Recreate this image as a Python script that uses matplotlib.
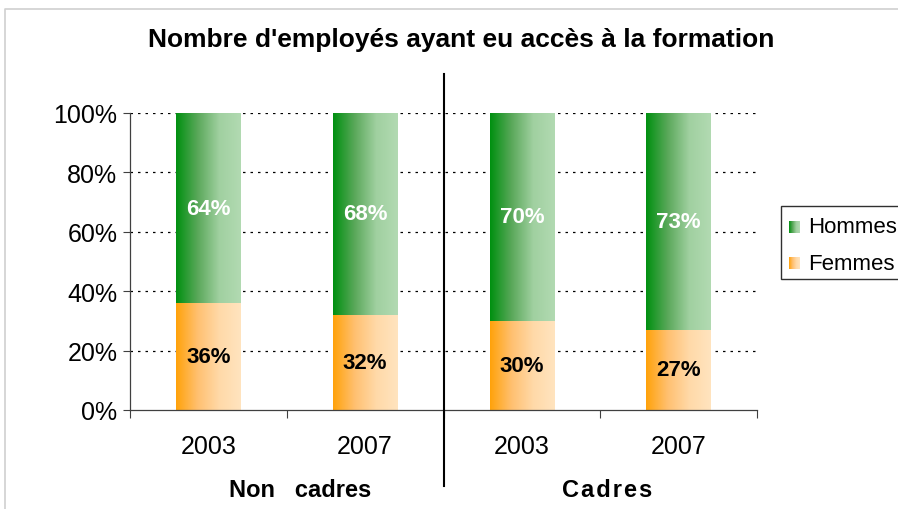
import numpy as np
import matplotlib.pyplot as plt
from matplotlib.colors import LinearSegmentedColormap
from matplotlib.patches import Rectangle
from matplotlib.lines import Line2D

plt.rcParams['font.family'] = ['Liberation Sans', 'DejaVu Sans']

years = ['2003', '2007', '2003', '2007']
groups = ['Non   cadres', 'C\u200aa\u200ad\u200ar\u200ae\u200as']
femmes = [36, 32, 30, 27]
hommes = [64, 68, 70, 73]
series = ['Hommes', 'Femmes']

green = LinearSegmentedColormap.from_list('g', ['#009010', '#5aa85a', '#a0d0a0', '#b2dab2'])
orange = LinearSegmentedColormap.from_list('o', ['#ffa20a', '#ffc070', '#ffd9a8', '#ffe4bf'])
grad = np.linspace(0, 1, 256).reshape(1, -1)

W, H = 898, 510
fig = plt.figure(figsize=(W / 100, H / 100), dpi=100)
ax = fig.add_axes([130 / W, 1 - 411 / H, 627 / W, 297 / H])

x = np.arange(len(years))
w = 0.41
bf = ax.bar(x, femmes, w, color='none', zorder=2)
bh = ax.bar(x, hommes, w, bottom=femmes, color='none', zorder=2)


def fill(bars, cmap):
    for b in bars:
        x0, y0 = b.get_x(), b.get_y()
        im = ax.imshow(grad, cmap=cmap, aspect='auto', zorder=2,
                       extent=[x0, x0 + b.get_width(), y0, y0 + b.get_height()])
        im.set_clip_path(b)


fill(bf, orange)
fill(bh, green)

for i in range(len(years)):
    ax.text(x[i], femmes[i] / 2, f"{femmes[i]}%", ha='center', va='center',
            fontsize=16, fontweight='bold', color='black', zorder=3)
    ax.text(x[i], femmes[i] + hommes[i] / 2, f"{hommes[i]}%", ha='center', va='center',
            fontsize=16, fontweight='bold', color='white', zorder=3)

ax.set_xlim(-0.5, 3.5)
ax.set_ylim(0, 100)
for yv in range(20, 101, 20):
    ax.axhline(yv, color='black', lw=0.9, ls=(0, (2, 4)), zorder=1)

ax.set_yticks(range(0, 101, 20))
ax.set_yticklabels([f"{v}%" for v in range(0, 101, 20)], fontsize=18)
ax.tick_params(axis='y', length=5, width=0.8, color='#404040', pad=4)
ax.set_xticks(np.arange(-0.5, 3.6, 1))
ax.set_xticklabels([])
ax.tick_params(axis='x', which='major', length=6, width=0.8, color='#404040')
ax.set_xticks(x, minor=True)
ax.set_xticklabels(years, minor=True, fontsize=18)
ax.tick_params(axis='x', which='minor', length=0, pad=17)
for s in ['top', 'right']:
    ax.spines[s].set_visible(False)
for s in ['left', 'bottom']:
    ax.spines[s].set_color('#404040')
    ax.spines[s].set_linewidth(0.9)

# separator between groups
fig.add_artist(Line2D([444 / W, 444 / W], [1 - 75 / H, 1 - 487 / H],
                      color='black', lw=1.5, transform=fig.transFigure))
fig.text(300 / W, 1 - 491 / H, groups[0], ha='center', va='center',
         fontsize=17, fontweight='bold')
fig.text(607 / W, 1 - 491 / H, groups[1], ha='center', va='center',
         fontsize=17, fontweight='bold')

fig.text(461 / W, 1 - 40 / H, "Nombre d'employés ayant eu accès à la formation",
         ha='center', va='center', fontsize=19, fontweight='bold')

# outer border of the chart area
fig.add_artist(Line2D([5 / W, 5 / W, 1], [0, 1 - 10 / H, 1 - 10 / H],
                      color='#d0d0d0', lw=1.2, transform=fig.transFigure))

# legend, drawn by hand so the keys keep the gradient
box = Rectangle((781 / W, 1 - 280 / H), 140 / W, 73 / H, transform=fig.transFigure,
                facecolor='white', edgecolor='#303030', lw=1, clip_on=False, zorder=3)
fig.add_artist(box)
for name, cmap, yc in [(series[0], green, 228), (series[1], orange, 264)]:
    kax = fig.add_axes([789 / W, 1 - (yc + 6) / H, 11 / W, 12 / H])
    kax.set_zorder(5)
    kax.imshow(grad, cmap=cmap, aspect='auto')
    kax.axis('off')
    fig.text(808 / W, 1 - yc / H, name, ha='left', va='center', fontsize=16, zorder=6)

fig.savefig('out.png', dpi=100)
